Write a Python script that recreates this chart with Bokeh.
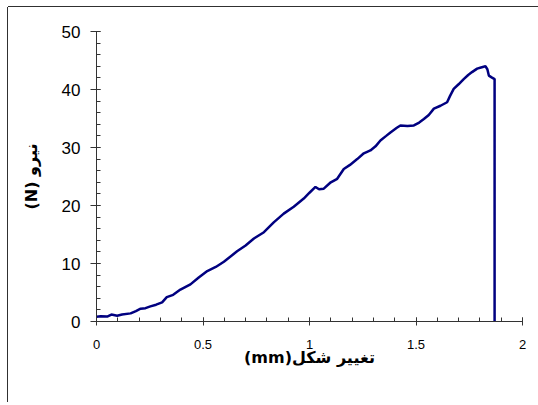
import numpy as np
from bokeh.plotting import figure
from bokeh.models import FixedTicker, Div
from bokeh.layouts import column
from bokeh.embed import file_html
from bokeh.resources import INLINE

# deformation (mm)
deform = [0.0, 0.02, 0.05, 0.07, 0.097, 0.12, 0.16, 0.185, 0.207, 0.23, 0.253, 0.28,
          0.308, 0.33, 0.36, 0.394, 0.441, 0.48, 0.52, 0.56, 0.598, 0.66, 0.70, 0.739,
          0.786, 0.832, 0.879, 0.926, 0.973, 1.0, 1.028, 1.045, 1.067, 1.10, 1.13,
          1.161, 1.19, 1.224, 1.255, 1.286, 1.31, 1.333, 1.36, 1.38, 1.41, 1.427,
          1.46, 1.49, 1.515, 1.537, 1.56, 1.584, 1.615, 1.646, 1.66, 1.677, 1.70,
          1.724, 1.745, 1.763, 1.787, 1.805, 1.826, 1.835, 1.842, 1.855, 1.869, 1.869]
# force (N)
force = [0.8, 0.9, 0.85, 1.2, 1.0, 1.2, 1.4, 1.8, 2.2, 2.3, 2.6, 2.9,
         3.3, 4.2, 4.6, 5.5, 6.4, 7.6, 8.7, 9.4, 10.3, 12.1, 13.1, 14.3,
         15.4, 17.1, 18.6, 19.8, 21.2, 22.2, 23.2, 22.8, 22.9, 24.0, 24.6,
         26.3, 27.0, 28.0, 29.0, 29.5, 30.2, 31.2, 32.0, 32.6, 33.4, 33.8,
         33.7, 33.8, 34.3, 34.9, 35.6, 36.7, 37.2, 37.8, 38.9, 40.1, 40.9,
         41.8, 42.5, 43.0, 43.6, 43.8, 44.0, 43.5, 42.4, 42.1, 41.8, 0.0]

x_ticks = [0, 0.5, 1, 1.5, 2]
x_tick_labels = ["0", "0.5", "1", "1.5", "2"]
y_ticks = [0, 10, 20, 30, 40, 50]
y_tick_labels = ["0", "10", "20", "30", "40", "50"]

x_title = "\u202Bتغییر شکل(mm)\u202C"
y_title = "\u202Bنیرو (N)\u202C"

p = figure(width=530, height=395, x_range=(0, 2), y_range=(0, 50),
           output_backend="svg", toolbar_location=None,
           min_border_left=88, min_border_right=16, min_border_top=24, min_border_bottom=81)
p.styles = {"box-shadow": "-1px 0 0 0 #303030"}
p.outline_line_color = None
p.xgrid.visible = False
p.ygrid.visible = False
p.background_fill_color = "white"
p.border_fill_color = "white"

p.line(deform, force, line_color="#000080", line_width=2.5)

xa = p.xaxis[0]
xa.ticker = FixedTicker(ticks=x_ticks, minor_ticks=list(np.round(np.arange(0, 2.01, 0.1), 2)))
xa.major_label_overrides = {t: l for t, l in zip(x_ticks, x_tick_labels)}
xa.major_tick_in = 4
xa.major_tick_out = 4
xa.minor_tick_in = 4
xa.minor_tick_out = 0
xa.major_label_standoff = 14
xa.major_label_text_font = "Liberation Sans"
xa.major_label_text_font_size = "13px"
xa.major_label_text_color = "black"
xa.axis_label = x_title
xa.axis_label_text_font = "DejaVu Sans"
xa.axis_label_text_font_style = "bold"
xa.axis_label_text_font_size = "16px"
xa.axis_label_text_color = "black"
xa.axis_label_standoff = -4

ya = p.yaxis[0]
ya.ticker = FixedTicker(ticks=y_ticks, minor_ticks=list(range(0, 51, 2)))
ya.major_label_overrides = {t: l for t, l in zip(y_ticks, y_tick_labels)}
ya.major_tick_in = 4
ya.major_tick_out = 6
ya.minor_tick_in = 4
ya.minor_tick_out = 0
ya.major_label_standoff = 10
ya.major_label_text_font = "Liberation Sans"
ya.major_label_text_font_size = "17px"
ya.major_label_text_color = "black"
ya.axis_label = y_title
ya.axis_label_text_font = "DejaVu Sans"
ya.axis_label_text_font_style = "bold"
ya.axis_label_text_font_size = "16px"
ya.axis_label_text_color = "black"
ya.axis_label_standoff = 18

for ax in (xa, ya):
    ax.axis_line_color = "#333333"
    ax.major_tick_line_color = "#333333"
    ax.minor_tick_line_color = "#333333"

top_line = Div(text="", width=530, height=1, margin=0,
               styles={"background-color": "#303030"})
layout = column(top_line, p, spacing=0, margin=0,
                styles={"margin-left": "8px", "margin-top": "6px"})

open("out.html", "w").write(file_html(layout, INLINE))
